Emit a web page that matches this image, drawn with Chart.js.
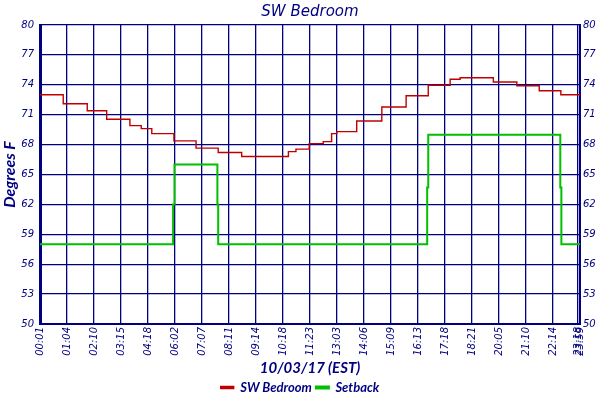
<!DOCTYPE html>
<html>
<head>
<meta charset="utf-8">
<script src="https://cdn.jsdelivr.net/npm/chart.js@4"></script>
<style>
  html, body { margin: 0; padding: 0; background: #fff; }
  #wrap { width: 600px; height: 400px; }
</style>
</head>
<body>
<div id="wrap"><canvas id="chart"></canvas></div>
<script>
// tick labels along the bottom (one per grid column, last two overlap)
const timeLabels = ["00:01", "01:04", "02:10", "03:15", "04:18", "06:02", "07:07", "08:11", "09:14", "10:18",
  "11:23", "13:03", "14:06", "15:09", "16:13", "17:18", "18:21", "20:05", "21:10", "22:14", "23:18", "23:59"];
const tickPositions = [0, 1, 2, 3, 4, 5, 6, 7, 8, 9, 10, 11, 12, 13, 14, 15, 16, 17, 18, 19, 19.93, 20];
const tempTicks = [50, 53, 56, 59, 62, 65, 68, 71, 74, 77, 80];

// SW Bedroom temperature (x in label columns)
const bedroomX = [0, 0.86, 1.75, 2.47, 3.33, 3.75, 4.14, 4.96, 5.78, 6.6, 7.47, 9.2, 9.48, 9.97,
  10.49, 10.8, 10.99, 11.73, 12.66, 13.56, 14.38, 15.19, 15.56, 16.79, 17.66, 18.49, 19.29, 20];
const bedroomTemp = [73.0, 72.1, 71.4, 70.55, 69.9, 69.6, 69.1, 68.37, 67.65, 67.2, 66.8, 67.3, 67.55, 68.1,
  68.3, 69.1, 69.3, 70.37, 71.77, 72.9, 73.95, 74.55, 74.7, 74.28, 73.9, 73.4, 73.0, 72.9];

// setback
const setbackX = [0, 4.93, 4.98, 6.57, 6.6, 14.34, 14.38, 19.27, 19.31, 20];
const setbackTemp = [58, 62, 66, 62, 58, 63.7, 69, 63.7, 58, 58];

const navy = "#000080";

function toPoints(xs, ys) {
  let pts = [];
  for (let i = 0; i < xs.length; i++) {
    pts.push({ x: xs[i], y: ys[i] });
  }
  return pts;
}

const ctx = document.getElementById("chart").getContext("2d");
new Chart(ctx, {
  type: "line",
  data: {
    datasets: [{
      label: "SW Bedroom",
      data: toPoints(bedroomX, bedroomTemp),
      borderColor: "#c00000",
      backgroundColor: "#c00000",
      borderWidth: 1.4,
      pointRadius: 0,
      stepped: "before",
      yAxisID: "y"
    }, {
      label: "Setback",
      data: toPoints(setbackX, setbackTemp),
      borderColor: "#00c000",
      backgroundColor: "#00c000",
      borderWidth: 2,
      pointRadius: 0,
      stepped: "before",
      yAxisID: "y"
    }]
  },
  options: {
    responsive: true,
    maintainAspectRatio: false,
    animation: false,
    // legend sits a little lower than Chart.js puts it by default
    layout: { padding: { top: 0, left: 0, right: 0, bottom: -4 } },
    plugins: {
      title: {
        display: true,
        fullSize: false, // centre it over the plot area like the original
        text: "SW Bedroom",
        color: navy,
        font: { family: "DejaVu Sans", size: 15, style: "italic", weight: "normal" },
        padding: { top: 3, bottom: 4 }
      },
      legend: {
        position: "bottom",
        labels: {
          color: navy,
          boxWidth: 13,
          boxHeight: 2,
          padding: 4,
          font: { family: "Lato", size: 13, style: "italic", weight: "bold" }
        }
      },
      tooltip: { enabled: false }
    },
    scales: {
      x: {
        type: "linear",
        min: 0,
        max: 20,
        afterBuildTicks: (scale) => {
          scale.ticks = tickPositions.map(v => ({ value: v }));
        },
        afterFit: (scale) => { scale.height = 53; },
        ticks: {
          autoSkip: false,
          minRotation: 90,
          maxRotation: 90,
          padding: 3,
          color: navy,
          font: { family: "DejaVu Sans", size: 10, style: "italic" },
          callback: (value, index) => timeLabels[index]
        },
        grid: { color: navy, lineWidth: 1.3, drawTicks: false },
        border: { color: navy, width: 2 },
        title: {
          display: true,
          text: "10/03/17 (EST)",
          color: navy,
          padding: { top: 1, bottom: 0 },
          font: { family: "Lato", size: 15, style: "italic", weight: "bold" }
        }
      },
      y: {
        position: "left",
        min: 50,
        max: 80,
        afterBuildTicks: (scale) => {
          scale.ticks = tempTicks.map(v => ({ value: v }));
        },
        afterFit: (scale) => { scale.width = 40; },
        ticks: {
          padding: 6,
          color: navy,
          font: { family: "DejaVu Sans", size: 10, style: "italic" }
        },
        grid: { color: navy, lineWidth: 1.3, drawTicks: false },
        border: { color: navy, width: 3 },
        title: {
          display: true,
          text: "Degrees F",
          color: navy,
          padding: 0,
          font: { family: "Lato", size: 16, style: "italic", weight: "bold" }
        }
      },
      y2: {
        position: "right",
        min: 50,
        max: 80,
        afterBuildTicks: (scale) => {
          scale.ticks = tempTicks.map(v => ({ value: v }));
        },
        afterFit: (scale) => { scale.width = 20; },
        ticks: {
          padding: 3,
          color: navy,
          font: { family: "DejaVu Sans", size: 10, style: "italic" }
        },
        grid: { display: false, drawTicks: false },
        border: { color: navy, width: 2 }
      }
    }
  }
});
</script>
</body>
</html>
